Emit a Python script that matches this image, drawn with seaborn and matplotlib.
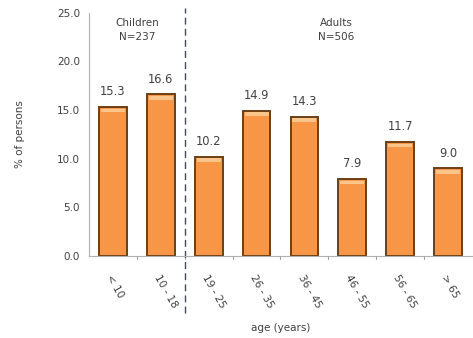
import matplotlib
matplotlib.use("Agg")
import matplotlib.pyplot as plt
import seaborn as sns
import pandas as pd

age_groups = ["< 10", "10 - 18", "19 - 25", "26 - 35", "36 - 45", "46 - 55", "56 - 65", "> 65"]
percent = [15.3, 16.6, 10.2, 14.9, 14.3, 7.9, 11.7, 9.0]
y_ticks = [0.0, 5.0, 10.0, 15.0, 20.0, 25.0]

sns.set_style("white")
plt.rcParams["font.family"] = ["DejaVu Sans"]

df = pd.DataFrame({"age": age_groups, "pct": percent})

fig = plt.figure(figsize=(4.73, 3.38), dpi=100)
ax = fig.add_axes([0.188, 0.243, 0.81, 0.719])

sns.barplot(data=df, x="age", y="pct", ax=ax, color="#F79646", width=0.58,
            edgecolor="#6b3f16", linewidth=1.4, saturation=1)

# lighter highlight strip on top of each bar
for p in ax.patches:
    x0, w, h = p.get_x(), p.get_width(), p.get_height()
    ax.add_patch(plt.Rectangle((x0 + 0.04, h - 0.55), w - 0.08, 0.4,
                               color="#FBC48A", lw=0, zorder=p.get_zorder() + 0.1))

text_col = "#404040"
for i, v in enumerate(percent):
    ax.text(i, v + 0.9, f"{v:.1f}", ha="center", va="bottom", fontsize=8.3, color=text_col)

ax.set_ylim(0, 25)
ax.set_xlim(-0.5, len(age_groups) - 0.5)
ax.set_yticks(y_ticks)
ax.set_yticklabels([f"{t:.1f}" for t in y_ticks], fontsize=7.5, color=text_col)
ax.set_xticks(range(len(age_groups)))
ax.set_xticklabels(age_groups, rotation=-60, ha="left", va="top", fontsize=7.5,
                   color=text_col, rotation_mode="anchor")
ax.tick_params(axis="x", length=0, pad=12)
ax.tick_params(axis="y", length=3, color="#a0a0a0", width=0.8)
for b in [i - 0.5 for i in range(1, len(age_groups))]:
    ax.plot([b, b], [0, -0.35], color="#a0a0a0", lw=0.8, clip_on=False)

for s in ["top", "right"]:
    ax.spines[s].set_visible(False)
for s in ["left", "bottom"]:
    ax.spines[s].set_color("#b0b0b0")
    ax.spines[s].set_linewidth(0.8)

ax.set_xlabel("age (years)", fontsize=7.5, color=text_col, labelpad=10)
ax.set_ylabel("% of persons", fontsize=7.5, color=text_col, labelpad=23)

# divider between children and adults
ax.plot([1.5, 1.5], [-5.9, 25.5], color="#404a5a", lw=1, ls=(0, (5, 3)), clip_on=False)

ax.text(0.5, 24.5, "Children\nN=237", ha="center", va="top", fontsize=7.5,
        color=text_col, linespacing=1.5)
ax.text(4.67, 24.5, "Adults\nN=506", ha="center", va="top", fontsize=7.5,
        color=text_col, linespacing=1.5)

fig.savefig("out.png", dpi=100)
